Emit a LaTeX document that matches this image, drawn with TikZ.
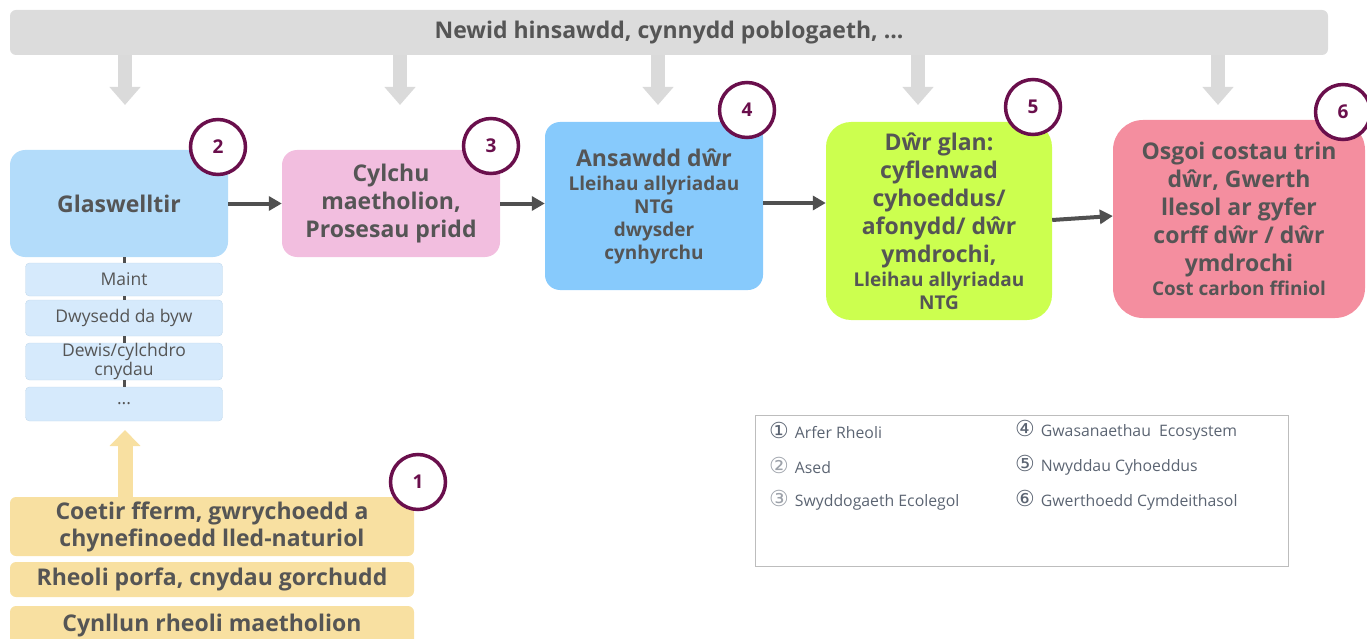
\documentclass[tikz,border=0pt]{standalone}
\usepackage{fontspec}
\setmainfont{Open Sans}
\newfontfamily\symfont{DejaVu Sans}
\usetikzlibrary{arrows.meta,positioning}

\definecolor{bannergray}{HTML}{DCDCDC}
\definecolor{arrowgray}{HTML}{DADADA}
\definecolor{txtgray}{HTML}{555555}
\definecolor{linkgray}{HTML}{505050}
\definecolor{glasblue}{HTML}{B3DCFA}
\definecolor{attrblue}{HTML}{D6EAFC}
\definecolor{attrline}{HTML}{C3D9EC}
\definecolor{cyclepink}{HTML}{F2BEDF}
\definecolor{waterblue}{HTML}{87CAFC}
\definecolor{limegreen}{HTML}{CCFF4F}
\definecolor{valuepink}{HTML}{F48E9F}
\definecolor{practiceyellow}{HTML}{F8E0A1}
\definecolor{badgepurple}{HTML}{6A0F4C}
\definecolor{legendgray}{HTML}{BDBDBD}
\definecolor{keytext}{HTML}{5B6472}

\newcommand\subline[1]{{\fontsize{19}{23}\selectfont #1}}
\newcommand\keynum[1]{{\symfont\fontsize{22}{22}\selectfont #1}}

\tikzset{
	banner/.style={fill=bannergray, rounded corners=6pt, inner sep=0pt, text=txtgray, font=\bfseries\fontsize{23}{26}\selectfont},
	pressure/.style={draw=arrowgray, line width=14pt, -{Triangle[width=30pt, length=18pt]}},
	stage/.style={align=center, inner sep=0pt, text=txtgray, font=\bfseries\fontsize{23}{28}\selectfont},
	attr/.style={fill=attrblue, draw=attrline, rounded corners=4pt, minimum width=197pt, align=center, inner sep=0pt, text=txtgray, font=\fontsize{17.5}{19}\selectfont},
	link/.style={draw=linkgray, line width=3pt},
	flow/.style={draw=linkgray, line width=4pt, -{Triangle[width=14pt, length=13pt]}},
	practice/.style={fill=practiceyellow, rounded corners=6pt, minimum width=404pt, align=center, inner sep=0pt, text=txtgray, font=\bfseries\fontsize{23}{27}\selectfont},
	uparrow/.style={draw=practiceyellow, line width=15pt, -{Triangle[width=30pt, length=16pt]}},
	badge/.style={circle, draw=badgepurple, line width=3.5pt, fill=white, minimum size=55pt, inner sep=0pt, text=badgepurple, font=\bfseries\fontsize{19}{19}\selectfont},
	key/.style={anchor=west, inner sep=0pt, text=keytext, font=\fontsize{15.8}{16}\selectfont}
}

\begin{document}
\begin{tikzpicture}[x=1pt, y=-1pt]
	\useasboundingbox (0,0) rectangle (1367,639);

	\node [banner, minimum width=1318pt, minimum height=45pt] (drivers) at (669,32.5) {Newid hinsawdd, cynnydd poblogaeth, ...};
	\foreach \gx [count=\i] in {125,400,658,918,1218}
		\coordinate (g\i) at (\gx,105);
	\foreach \i in {1,...,5}
		\draw [pressure] (drivers.south -| g\i) -- (g\i);

	\node [stage, fill=glasblue, minimum width=218pt, minimum height=107pt, rounded corners=15pt] (glas) at (119,203.5) {Glaswelltir};
	\node [stage, fill=cyclepink, minimum width=218pt, minimum height=107pt, rounded corners=15pt] (cylchu) at (391,203.5) {Cylchu\\maetholion,\\Prosesau pridd};
	\node [stage, fill=waterblue, minimum width=218pt, minimum height=168pt, rounded corners=15pt] (ansawdd) at (654,206) {Ansawdd dŵr\\[-4pt]\subline{Lleihau allyriadau}\\[-5pt]\subline{NTG}\\[-5pt]\subline{dwysder}\\[-5pt]\subline{cynhyrchu}};
	\node [stage, fill=limegreen, minimum width=226pt, minimum height=198pt, rounded corners=25pt] (glan) at (939,221) {Dŵr glan:\\cyflenwad\\cyhoeddus/\\afonydd/ dŵr\\ymdrochi,\\[-4pt]\subline{Lleihau allyriadau}\\[-5pt]\subline{NTG}};
	\node [stage, fill=valuepink, minimum width=252pt, minimum height=198pt, rounded corners=30pt] (osgoi) at (1239,219) {Osgoi costau trin\\dŵr, Gwerth\\llesol ar gyfer\\corff dŵr / dŵr\\ymdrochi\\[-4pt]\subline{Cost carbon ffiniol}};

	\draw [flow] (glas.east) -- (cylchu.west);
	\draw [flow] (cylchu.east) -- (cylchu.east -| ansawdd.west);
	\draw [flow] ([yshift=3pt]ansawdd.east) -- ([yshift=3pt]ansawdd.east -| glan.west);
	\draw [flow] ([yshift=1pt]glan.east) -- ([yshift=3pt]osgoi.west);

	\node [attr, minimum height=33pt] (maint) at (124,279.5) {Maint};
	\node [attr, minimum height=36pt] (dwysedd) at (124,318) {Dwysedd da byw};
	\node [attr, minimum height=37pt] (dewis) at (124,361.5) {Dewis/cylchdro\\cnydau};
	\node [attr, minimum height=34pt] (more) at (124,404) {...};
	\draw [link] (maint.north |- glas.south) -- (maint.north);
	\foreach \a/\b in {maint/dwysedd, dewis/more, dwysedd/dewis}
		\draw [link] (\a.south) -- (\b.north);

	\node [practice, minimum height=59pt] (coetir) at (212,526.5) {Coetir fferm, gwrychoedd a\\chynefinoedd lled-naturiol};
	\node [practice, minimum height=35pt] (porfa) at (212,579.5) {Rheoli porfa, cnydau gorchudd};
	\node [practice, minimum height=40pt] (cynllun) at (212,626) {Cynllun rheoli maetholion};
	\coordinate (up) at (125,430);
	\draw [uparrow] (coetir.north -| up) -- (up);

	\node [badge] (b1) at (418,482) {1};
	\node [badge] (b2) at (218,147) {2};
	\node [badge] (b3) at (491,146) {3};
	\node [badge] (b4) at (747,110) {4};
	\node [badge] (b5) at (1033,107) {5};
	\node [badge] (b6) at (1343,112) {6};

	\node [draw=legendgray, line width=1pt, minimum width=533pt, minimum height=151pt, inner sep=0pt] (legend) at (1021.5,490.5) {};
	\node [key] (k1) at (769,430) {\keynum{①}\hspace{6pt}Arfer Rheoli};
	\node [key] (k2) at (769,465) {\keynum{\color{keytext!60}②}\hspace{6pt}Ased};
	\node [key] (k3) at (769,500) {\keynum{\color{keytext!60}③}\hspace{6pt}Swyddogaeth Ecolegol};
	\node [key] (k4) at (1015,430) {\keynum{④}\hspace{6pt}Gwasanaethau\ \ Ecosystem};
	\node [key] (k5) at (1015,465) {\keynum{⑤}\hspace{6pt}Nwyddau Cyhoeddus};
	\node [key] (k6) at (1015,500) {\keynum{⑥}\hspace{6pt}Gwerthoedd Cymdeithasol};
\end{tikzpicture}
\end{document}
